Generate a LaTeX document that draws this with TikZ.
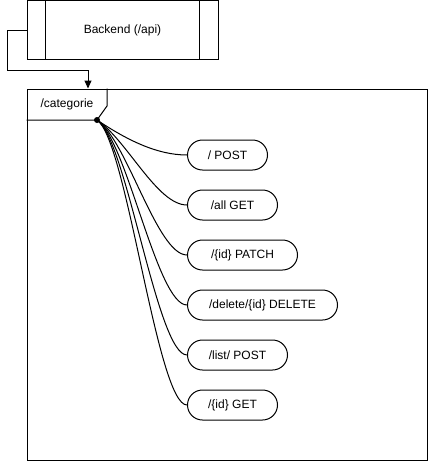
\documentclass[tikz,border=0pt]{standalone}
\usepackage{fontspec}
\setmainfont{Liberation Sans}
\usetikzlibrary{arrows.meta}

\tikzset{
  route/.style={draw, rounded corners=15pt, minimum height=30pt, inner sep=0pt, anchor=west},
  link/.style={line width=1pt},
}

\begin{document}
\begin{tikzpicture}[x=1pt,y=-1pt,line width=1pt,font=\fontsize{12}{14}\selectfont]
\useasboundingbox (0,0) rectangle (428,461);
% backend block
\node[draw, minimum width=191pt, minimum height=59pt, inner sep=0pt] (backend) at (122.5,30) {Backend (/api)};
\draw ([xshift=19pt]backend.north west) -- ([xshift=19pt]backend.south west);
\draw ([xshift=-19pt]backend.north east) -- ([xshift=-19pt]backend.south east);
% frame
\node[draw, minimum width=400pt, minimum height=371pt, inner sep=0pt] (categorie) at (227,274.5) {};
\node (catlabel) at (67,104) {/categorie};
\coordinate (dot) at (97,120);
\draw (categorie.north west -| 107,0) -- (107,106) -- (dot) -- (categorie.west |- dot);
\fill (dot) circle (3pt);
% connector
\coordinate (bend) at (7,70);
\coordinate (entry) at (categorie.north west -| 88,0);
\draw[-{Triangle[length=8pt,width=7pt]}] (backend.west) -| (bend) -| (entry);
% routes
\node[route, minimum width=80pt] (post) at (187,155) {/ POST};
\node[route, minimum width=90pt] (all) at (187,205) {/all GET};
\node[route, minimum width=110pt] (patch) at (187,255) {/\{id\} PATCH};
\node[route, minimum width=150pt] (delete) at (187,305) {/delete/\{id\} DELETE};
\node[route, minimum width=100pt] (list) at (187,355) {/list/ POST};
\node[route, minimum width=90pt] (get) at (187,405) {/\{id\} GET};
\foreach \r in {post,all,patch,delete,list,get}
  \draw[link] (dot) .. controls +(30,20) and +(-30,0) .. (\r.west);
\end{tikzpicture}
\end{document}
